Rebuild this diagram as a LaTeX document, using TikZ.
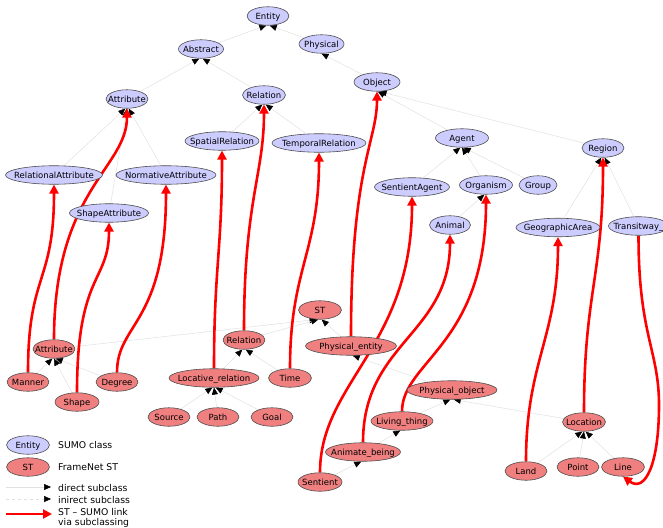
\documentclass[tikz,border=0pt]{standalone}
\usepackage{fontspec}
\setmainfont{DejaVu Sans}
\usetikzlibrary{shapes.geometric,arrows.meta}
\pgfdeclarelayer{background}
\pgfsetlayers{background,main}
\definecolor{sumoblue}{RGB}{204,204,255}
\definecolor{fnred}{RGB}{240,128,128}
\definecolor{edgegray}{RGB}{225,225,225}
\newcommand{\ntxt}[1]{\makebox[0pt][c]{#1}}
\begin{document}
\begin{tikzpicture}[x=1pt,y=-1pt,
  base/.style={ellipse, draw=black!70, line width=0.6pt, inner sep=0pt,
    minimum height=18.5pt, text height=7.7pt, text depth=1.5pt,
    font=\fontsize{8.5}{10}\selectfont},
  sumo/.style={base, fill=sumoblue},
  fn/.style={base, fill=fnred},
  sub/.style={draw=edgegray, line width=0.5pt,
    -{Triangle[length=7pt,width=6pt,color=black]}},
  subind/.style={sub, dashed},
  link/.style={draw=red, line width=2.6pt,
    -{Triangle[length=9pt,width=9pt]}},
  lgtxt/.style={anchor=west, inner sep=0pt, align=left,
    font=\fontsize{9.3}{10}\selectfont}
]
\useasboundingbox (0,0) rectangle (663,527);
\clip (0,0) rectangle (663,527);

% SUMO classes
\node[sumo, minimum width=42] (sEntity) at (268,16) {\ntxt{Entity}};
\node[sumo, minimum width=45] (sPhys) at (321.5,44) {\ntxt{Physical}};
\node[sumo, minimum width=45] (sAbs) at (201,49) {\ntxt{Abstract}};
\node[sumo, minimum width=42] (sAttr) at (127,99) {\ntxt{Attribute}};
\node[sumo, minimum width=43] (sRel) at (264,95) {\ntxt{Relation}};
\node[sumo, minimum width=74] (sSpatRel) at (222,141) {\ntxt{SpatialRelation}};
\node[sumo, minimum width=94] (sTempRel) at (319,143) {\ntxt{TemporalRelation}};
\node[sumo, minimum width=97] (sRelAttr) at (54,175) {\ntxt{RelationalAttribute}};
\node[sumo, minimum width=100] (sNormAttr) at (166,175) {\ntxt{NormativeAttribute}};
\node[sumo, minimum width=79] (sShapeAttr) at (109,213) {\ntxt{ShapeAttribute}};
\node[sumo, minimum width=46] (sObject) at (377,82) {\ntxt{Object}};
\node[sumo, minimum width=53] (sAgent) at (462,138) {\ntxt{Agent}};
\node[sumo, minimum width=42] (sRegion) at (603,148) {\ntxt{Region}};
\node[sumo, minimum width=75] (sSentAg) at (412,187) {\ntxt{SentientAgent}};
\node[sumo, minimum width=53] (sOrganism) at (486,185) {\ntxt{Organism}};
\node[sumo, minimum width=38] (sGroup) at (538,185) {\ntxt{Group}};
\node[sumo, minimum width=41] (sAnimal) at (450,225) {\ntxt{Animal}};
\node[sumo, minimum width=84] (sGeo) at (558,227.5) {\ntxt{GeographicArea}};
\node[sumo, minimum width=60] (sTransit) at (638.5,226) {\ntxt{Transitway\_}};

% FrameNet semantic types
\node[fn, minimum width=43] (fST) at (320,310) {\ntxt{ST}};
\node[fn, minimum width=91] (fPhysEnt) at (351,346) {\ntxt{Physical\_entity}};
\node[fn, minimum width=90] (fPhysObj) at (452,390) {\ntxt{Physical\_object}};
\node[fn, minimum width=62] (fLiving) at (402,421) {\ntxt{Living\_thing}};
\node[fn, minimum width=75] (fAnimate) at (363,452) {\ntxt{Animate\_being}};
\node[fn, minimum width=44] (fSentient) at (320,482) {\ntxt{Sentient}};
\node[fn, minimum width=43] (fLocation) at (584,422) {\ntxt{Location}};
\node[fn, minimum width=42] (fLand) at (526,471) {\ntxt{Land}};
\node[fn, minimum width=42] (fPoint) at (578,467) {\ntxt{Point}};
\node[fn, minimum width=43] (fLine) at (623,467) {\ntxt{Line}};
\node[fn, minimum width=42] (fAttr) at (54,349) {\ntxt{Attribute}};
\node[fn, minimum width=42] (fManner) at (28,382) {\ntxt{Manner}};
\node[fn, minimum width=44] (fShape) at (77,402) {\ntxt{Shape}};
\node[fn, minimum width=42] (fDegree) at (117,382) {\ntxt{Degree}};
\node[fn, minimum width=42] (fRel) at (244,340) {\ntxt{Relation}};
\node[fn, minimum width=90] (fLocRel) at (214,378) {\ntxt{Locative\_relation}};
\node[fn, minimum width=43] (fTime) at (290,378) {\ntxt{Time}};
\node[fn, minimum width=42] (fSource) at (169,417) {\ntxt{Source}};
\node[fn, minimum width=42] (fPath) at (218,417) {\ntxt{Path}};
\node[fn, minimum width=42] (fGoal) at (272,417) {\ntxt{Goal}};

% legend
\node[sumo, minimum width=43] (lgSumo) at (28,445) {\ntxt{Entity}};
\node[lgtxt] (lgSumoT) at (58,445) {SUMO class};
\node[fn, minimum width=43] (lgFn) at (28,467) {\ntxt{ST}};
\node[lgtxt] (lgFnT) at (58,467) {FrameNet ST};
\coordinate (lgD1) at (6,487);
\coordinate (lgD2) at (51,487);
\node[lgtxt] (lgDT) at (58,488) {direct subclass};
\coordinate (lgI1) at (6,499);
\coordinate (lgI2) at (51,499);
\node[lgtxt] (lgIT) at (58,500) {inirect subclass};
\coordinate (lgR1) at (6,514);
\coordinate (lgR2) at (52,514);
\node[lgtxt] (lgRT) at (58,518) {ST – SUMO link\\via subclassing};
\coordinate (ctA) at (659,405);

\begin{pgfonlayer}{background}
% SUMO subclass edges
\draw[sub] (sAbs) -- (sEntity.-100);
\draw[sub] (sPhys) -- (sEntity.-80);
\draw[sub] (sAttr) -- (sAbs.-100);
\draw[sub] (sRel) -- (sAbs.-80);
\draw[sub] (sObject) -- (sPhys.-90);
\draw[sub] (sRelAttr) -- (sAttr.-100);
\draw[sub] (sShapeAttr) -- (sAttr.-90);
\draw[sub] (sNormAttr) -- (sAttr.-80);
\draw[sub] (sSpatRel) -- (sRel.-100);
\draw[sub] (sTempRel) -- (sRel.-80);
\draw[sub] (sAgent) -- (sObject.-85);
\draw[sub] (sRegion) -- (sObject.-75);
\draw[sub] (sSentAg) -- (sAgent.-100);
\draw[sub] (sOrganism) -- (sAgent.-90);
\draw[sub] (sGroup) -- (sAgent.-80);
\draw[sub] (sAnimal) -- (sOrganism.-100);
\draw[sub] (sGeo) -- (sRegion.-100);
\draw[sub] (sTransit) -- (sRegion.-80);
% FrameNet subclass edges
\draw[sub] (fAttr) -- (fST.-110);
\draw[sub] (fRel) -- (fST.-100);
\draw[sub] (fPhysEnt) -- (fST.-80);
\draw[sub] (fManner) -- (fAttr.-100);
\draw[sub] (fShape) -- (fAttr.-90);
\draw[sub] (fDegree) -- (fAttr.-80);
\draw[sub] (fLocRel) -- (fRel.-100);
\draw[sub] (fTime) -- (fRel.-80);
\draw[sub] (fSource) -- (fLocRel.-100);
\draw[sub] (fPath) -- (fLocRel.-90);
\draw[sub] (fGoal) -- (fLocRel.-80);
\draw[sub] (fPhysObj) -- (fPhysEnt.-80);
\draw[sub] (fLiving) -- (fPhysObj.-100);
\draw[sub] (fLocation) -- (fPhysObj.-80);
\draw[sub] (fAnimate) -- (fLiving.-100);
\draw[sub] (fSentient) -- (fAnimate.-100);
\draw[sub] (fLand) -- (fLocation.-100);
\draw[sub] (fPoint) -- (fLocation.-90);
\draw[sub] (fLine) -- (fLocation.-80);
% ST - SUMO links
\draw[link] (fManner.north) .. controls +(0,-100) and +(0,100) .. (sRelAttr.south);
\draw[link] (fAttr.north) .. controls +(0,-150) and +(0,60) .. (sAttr.south);
\draw[link] (fShape.north) .. controls +(0,-120) and +(0,60) .. (sShapeAttr.south);
\draw[link] (fDegree.north) .. controls +(0,-50) and +(0,140) .. (sNormAttr.south);
\draw[link] (fLocRel.north) .. controls +(0,-100) and +(0,100) .. (sSpatRel.south);
\draw[link] (fRel.north) .. controls +(0,-130) and +(0,70) .. (sRel.south);
\draw[link] (fTime.north) .. controls +(0,-100) and +(0,100) .. (sTempRel.south);
\draw[link] (fPhysEnt.north) .. controls +(0,-170) and +(0,50) .. (sObject.south);
\draw[link] (fSentient.north) .. controls +(0,-90) and +(0,150) .. (sSentAg.south);
\draw[link] (fAnimate.north) .. controls +(0,-100) and +(0,100) .. (sAnimal.south);
\draw[link] (fLiving.north) .. controls +(0,-50) and +(0,150) .. (sOrganism.south);
\draw[link] (fLand.north) .. controls +(0,-100) and +(0,100) .. (sGeo.south);
\draw[link] (fLocation.north) .. controls +(0,-120) and +(0,120) .. (sRegion.south);
\draw[link] (sTransit.south) .. controls +(0,100) and +(0,-55) .. (ctA)
  .. controls +(0,60) and +(22,16) .. (fLine.south);
% legend connectors
\draw[sub] (lgD1) -- (lgD2);
\draw[subind] (lgI1) -- (lgI2);
\draw[link] (lgR1) -- (lgR2);
\end{pgfonlayer}
\end{tikzpicture}
\end{document}
